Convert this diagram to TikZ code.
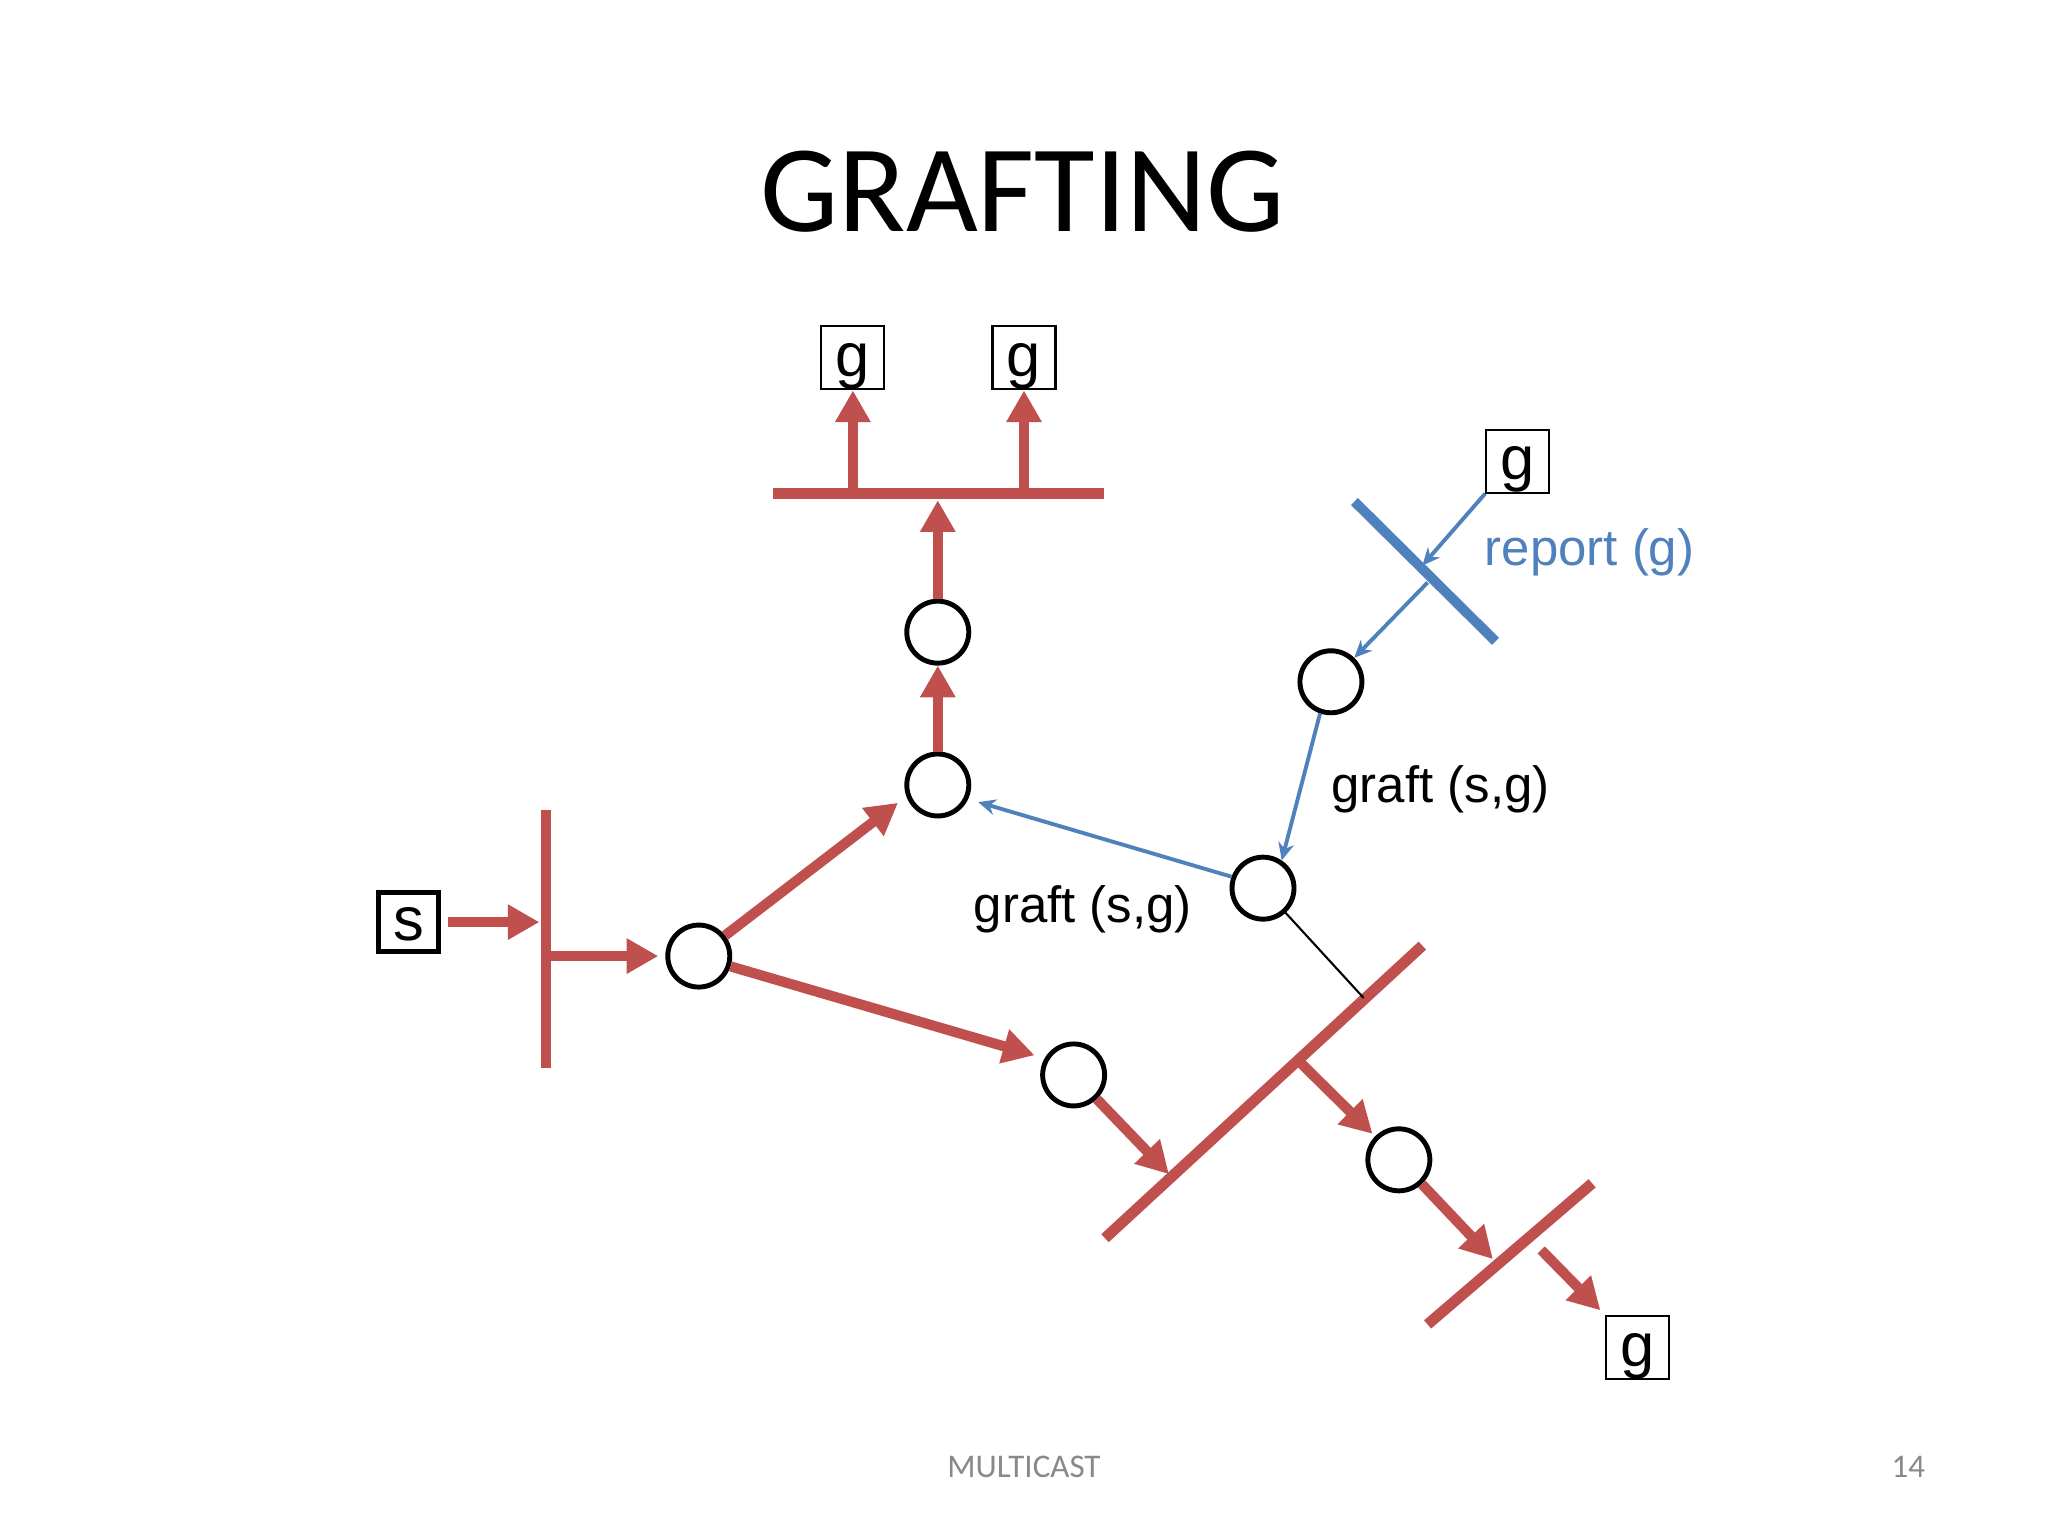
\documentclass[tikz,border=0pt]{standalone}
\usepackage{fontspec}
\setmainfont{Liberation Sans}
\newfontfamily\titlefont{Carlito}
\usetikzlibrary{arrows.meta,calc}
\definecolor{treered}{HTML}{C0504D}
\definecolor{msgblue}{HTML}{4F81BD}
\definecolor{footgray}{HTML}{898989}

\begin{document}
\begin{tikzpicture}[
  x=0.01306cm, y=-0.01306cm,
  router/.style={circle, draw, line width=1.4pt, minimum size=0.62cm, inner sep=0pt},
  member/.style={draw, line width=0.6pt, minimum width=0.63cm, inner sep=0pt, text height=0.5cm, text depth=0.13cm, font=\fontsize{17.5}{20}\selectfont},
  source/.style={member, line width=1.5pt, minimum width=0.6cm, text height=0.48cm, text depth=0.11cm},
  lan/.style={treered, line width=3.1pt},
  cut/.style={msgblue, line width=2.8pt},
  arr/.style={treered, line width=2.9pt, -{Triangle[length=9pt, width=9.5pt]}},
  msg/.style={msgblue, line width=1.1pt, -{Stealth[length=5pt, width=4.5pt]}},
  lbl/.style={font=\fontsize{14.5}{17}\selectfont},
]
\fill[white] (0,0) rectangle (1568,1176);
\useasboundingbox (0,0) rectangle (1568,1176);

% Title
\node[font=\titlefont\fontsize{35.3}{40}\selectfont, anchor=base] (title) at (783,177) {GRAFTING};

% Group members and source
\node[member] (gL) at (653,274) {g};
\node[member] (gR) at (784,274) {g};
\node[member] (gX) at (1162,353) {g};
\node[member] (gB) at (1254,1032) {g};
\node[source] (src) at (313,706) {s};

% Routers
\node[router] (rA) at (718,484) {};
\node[router] (rB) at (718,601) {};
\node[router] (rC) at (535,732) {};
\node[router] (rD) at (822,823) {};
\node[router] (rE) at (967,680) {};
\node[router] (rF) at (1019,522) {};
\node[router] (rG) at (1071,888) {};

% LAN segments
\coordinate (topL) at (592,378);  \coordinate (topR) at (845,378);
\coordinate (srcT) at (418,620);  \coordinate (srcB) at (418,818);
\coordinate (bigL) at (846,948);  \coordinate (bigR) at (1089,724);
\coordinate (lowL) at (1093,1014); \coordinate (lowR) at (1219,906);
\draw[lan] (topL) -- (topR);
\draw[lan] (srcT) -- (srcB);
\draw[lan] (bigL) -- (bigR);
\draw[lan] (lowL) -- (lowR);

% Pruned branch
\coordinate (cutL) at (1037,384); \coordinate (cutR) at (1145,491);
\draw[cut] (cutL) -- (cutR);

% Taps on the LANs
\coordinate (topA) at (718,383);
\coordinate (topG1) at (653,375);
\coordinate (topG2) at (784,375);
\coordinate (srcIn) at (413,706);
\coordinate (srcOut) at (418,732);
\coordinate (bigIn) at (895,899);
\coordinate (bigOut) at (993,811);
\coordinate (bigTap) at (1044,764);
\coordinate (lowIn) at (1143,964);
\coordinate (lowOut) at (1180,957);
\coordinate (cutMid) at (1089,433);
\coordinate (cutOut) at (1093,446);

% Multicast tree
\draw[arr, shorten <=2pt] (src.east) -- (srcIn);
\draw[arr, shorten >=2pt] (srcOut) -- (rC);
\draw[arr, shorten >=3pt] (rC.38) -- (rB.200);
\draw[arr, shorten >=3pt] (rC.-18) -- (rD.150);
\draw[arr] (rB) -- (rA);
\draw[arr] (rA) -- (topA);
\draw[arr] (topG1) -- (gL.south);
\draw[arr] (topG2) -- (gR.south);
\draw[arr] (rD) -- (bigIn);
\draw[arr, shorten >=1pt] (bigOut) -- (rG);
\draw[arr] (rG) -- (lowIn);
\draw[arr, shorten >=2pt] (lowOut) -- (gB.north west);
\draw[line width=0.6pt] (rE) -- (bigTap);

% Report and graft messages
\draw[msg] (gX.south west) -- (cutMid);
\draw[msg] (cutOut) -- (rF);
\draw[msg] (rF.251) -- (rE.56);
\draw[msg, shorten >=3pt] (rE.160) -- (rB.-25);

% Labels
\node[lbl, text=msgblue] (report) at (1217,423) {report (g)};
\node[lbl] (graftR) at (1103,604) {graft (s,g)};
\node[lbl] (graftL) at (829,696) {graft (s,g)};

% Footer
\node[font=\titlefont\fontsize{9.4}{11}\selectfont, text=footgray, anchor=base] (foot) at (784,1131) {MULTICAST};
\node[font=\titlefont\fontsize{9.4}{11}\selectfont, text=footgray, anchor=base] (page) at (1461,1131) {14};

\end{tikzpicture}
\end{document}
